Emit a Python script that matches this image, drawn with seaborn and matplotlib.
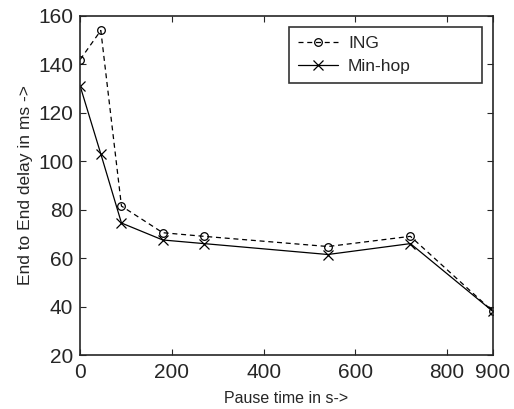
import pandas as pd
import seaborn as sns
import matplotlib.pyplot as plt

pause_time = [0, 45, 90, 180, 270, 540, 720, 900]
ing_delay = [142, 154, 81.5, 70.5, 69, 64.8, 69, 38]
minhop_delay = [131, 103, 74.5, 67.5, 66, 61.5, 66, 38]

sns.set_style('ticks')
plt.rcParams['font.family'] = ['Liberation Sans', 'DejaVu Sans']

fig = plt.figure(figsize=(5.14, 4.09), dpi=100)
ax = fig.add_axes([0.156, 0.132, 0.803, 0.829])

# ING: dashed line with open circles
sns.lineplot(x=pause_time, y=ing_delay, color='black', linewidth=0.9,
             linestyle=(0, (4, 3)), marker='o', markersize=5.5,
             markerfacecolor='none', markeredgecolor='black',
             markeredgewidth=0.9, label='ING', ax=ax)
# Min-hop: solid line with crosses
sns.lineplot(x=pause_time, y=minhop_delay, color='black', linewidth=0.9,
             marker='x', markersize=7, markeredgecolor='black',
             markeredgewidth=0.9, label='Min-hop', ax=ax)

ax.set_xlim(0, 900)
ax.set_ylim(20, 160)
ax.set_xticks([0, 200, 400, 600, 800, 900])
ax.set_yticks(range(20, 161, 20))
ax.tick_params(direction='in', top=True, right=True, labelsize=15, length=4)
ax.tick_params(axis='x', pad=6)
ax.tick_params(axis='y', pad=5)
for s in ax.spines.values():
    s.set_visible(True)
    s.set_linewidth(1.2)

ax.set_xlabel('Pause time in s->', fontsize=11.5, labelpad=6)
ax.set_ylabel('End to End delay in ms ->', fontsize=12.5, labelpad=4)

leg = ax.legend(loc='upper left', fontsize=12.5, frameon=True, fancybox=False,
                edgecolor='black', handlelength=2.3, handletextpad=0.6,
                borderpad=0.5, labelspacing=0.5, mode='expand',
                bbox_to_anchor=(0.506, 0.791, 0.467, 0.177),
                borderaxespad=0)
leg.get_frame().set_linewidth(1.2)

fig.savefig('out.png', dpi=100)
